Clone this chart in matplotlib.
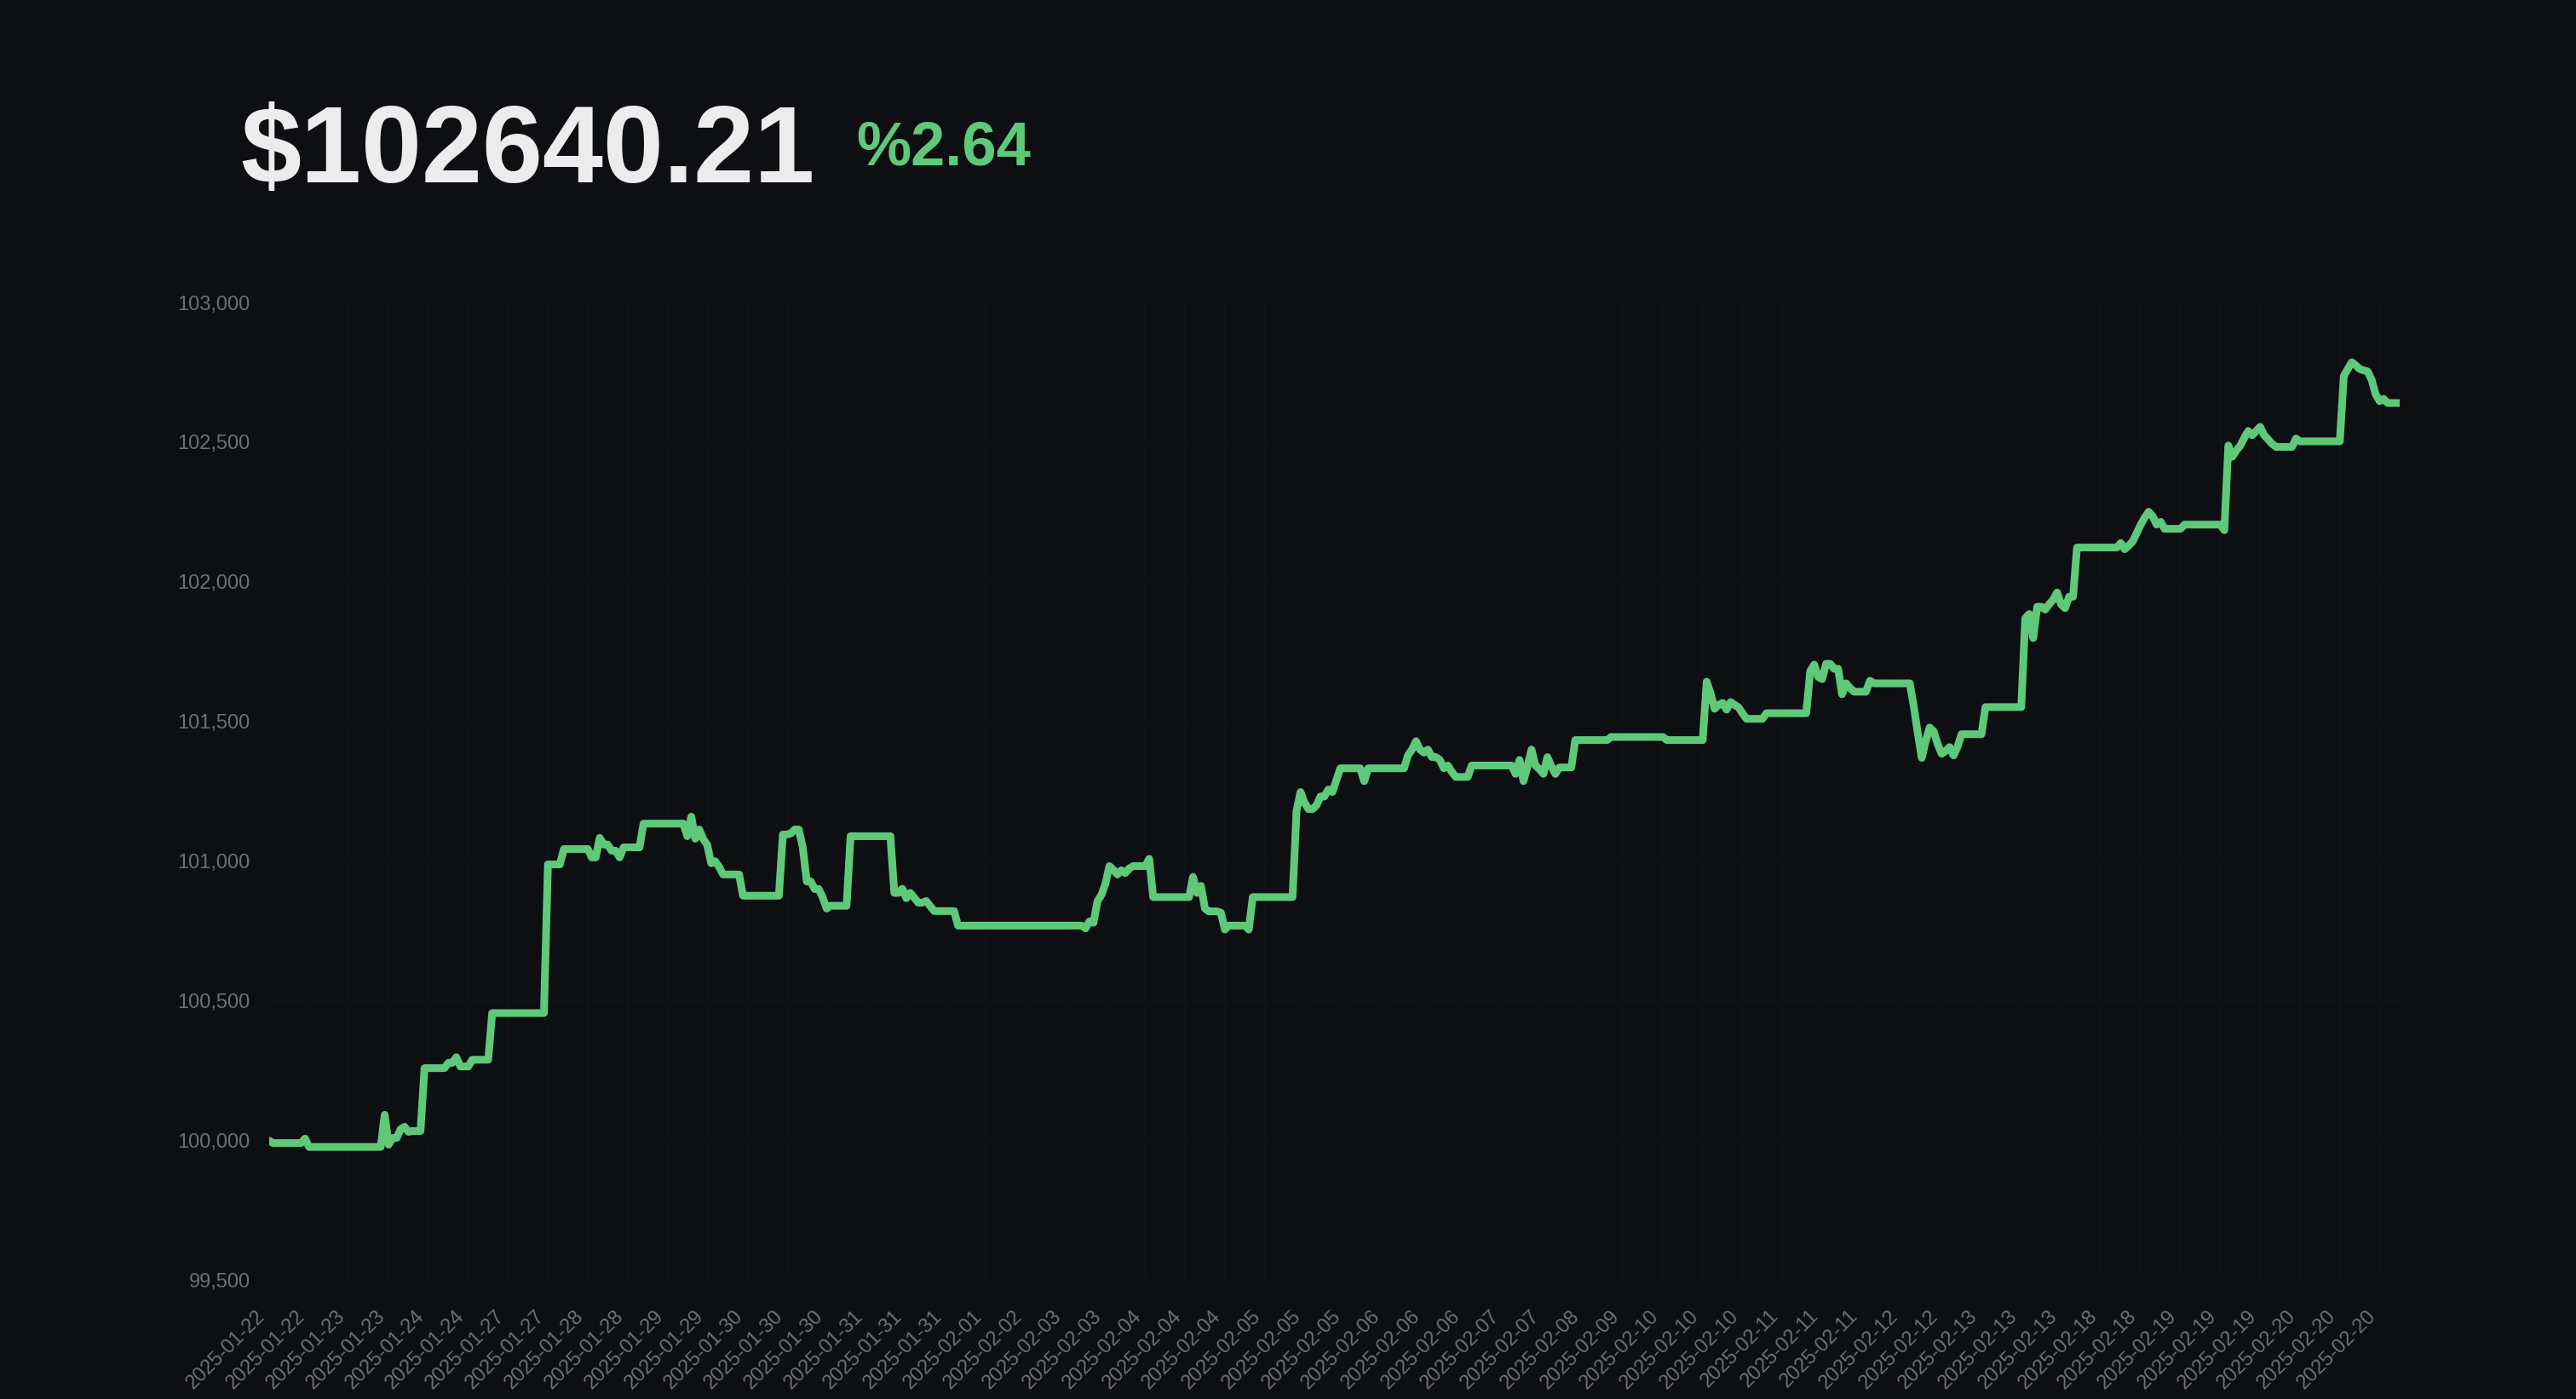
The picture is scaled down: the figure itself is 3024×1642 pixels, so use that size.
import numpy as np
import matplotlib
matplotlib.use("Agg")
import matplotlib.pyplot as plt
from matplotlib.ticker import FuncFormatter

# account value, stored as (index where value changes, new value)
step_at = [0, 1, 9, 10, 29, 30, 31, 33, 34, 35, 36, 39, 45, 47, 48, 51, 56, 70, 74, 81,
           83, 84, 86, 88, 89, 94, 105, 106, 107, 108, 109, 110, 111, 112, 113, 114, 119, 129, 131, 132,
           134, 135, 137, 139, 140, 141, 146, 157, 159, 160, 161, 162, 163, 165, 166, 167, 173, 205, 206, 207,
           208, 209, 210, 211, 212, 213, 214, 215, 216, 217, 221, 222, 232, 233, 234, 235, 236, 239, 240, 241,
           246, 247, 258, 259, 260, 261, 263, 264, 266, 267, 268, 269, 275, 276, 286, 287, 288, 289, 290, 291,
           292, 294, 295, 296, 297, 298, 302, 313, 314, 315, 316, 317, 318, 319, 320, 321, 322, 323, 324, 328,
           337, 351, 361, 362, 363, 364, 365, 366, 367, 368, 369, 370, 371, 376, 387, 388, 389, 390, 391, 393,
           395, 396, 397, 398, 402, 403, 413, 414, 415, 416, 417, 418, 419, 420, 421, 422, 423, 424, 425, 431,
           441, 442, 443, 444, 446, 447, 448, 449, 450, 451, 452, 454, 465, 466, 467, 468, 469, 470, 471, 472,
           473, 474, 475, 476, 481, 491, 492, 493, 494, 495, 496, 497, 498, 499, 500, 501, 502, 503, 504, 509,
           510, 521, 522, 523, 524, 525, 526, 527, 528, 529, 530, 531, 532]
step_value = [100000, 99992, 100008, 99978, 100093, 99986, 100010, 100041, 100050, 100032, 100035, 100260, 100279, 100299, 100266, 100290, 100457, 100989, 101044, 101014,
              101084, 101060, 101038, 101014, 101050, 101135, 101090, 101160, 101081, 101114, 101080, 101059, 100993, 101000, 100980, 100953, 100877, 101096, 101100, 101114,
              101050, 100928, 100901, 100871, 100831, 100841, 101090, 100887, 100902, 100868, 100887, 100870, 100852, 100858, 100840, 100822, 100770, 100760, 100785, 100780,
              100857, 100880, 100920, 100983, 100970, 100953, 100968, 100958, 100975, 100983, 101009, 100872, 100944, 100887, 100912, 100831, 100821, 100816, 100756, 100770,
              100756, 100872, 101181, 101248, 101210, 101187, 101200, 101232, 101257, 101248, 101290, 101333, 101287, 101333, 101380, 101400, 101430, 101400, 101389, 101400,
              101373, 101363, 101333, 101343, 101320, 101302, 101343, 101313, 101363, 101287, 101340, 101400, 101343, 101330, 101313, 101373, 101340, 101313, 101336, 101434,
              101445, 101434, 101643, 101600, 101546, 101560, 101567, 101543, 101570, 101560, 101551, 101530, 101510, 101530, 101680, 101704, 101660, 101652, 101707, 101689,
              101598, 101637, 101620, 101607, 101646, 101637, 101555, 101460, 101370, 101430, 101479, 101465, 101420, 101385, 101395, 101409, 101379, 101410, 101455, 101552,
              101870, 101885, 101799, 101911, 101901, 101920, 101936, 101962, 101920, 101906, 101947, 102123, 102139, 102117, 102130, 102145, 102175, 102205, 102230, 102251,
              102235, 102205, 102215, 102190, 102205, 102185, 102488, 102448, 102470, 102488, 102515, 102540, 102525, 102540, 102555, 102525, 102510, 102494, 102483, 102513,
              102503, 102737, 102762, 102786, 102775, 102762, 102757, 102753, 102723, 102671, 102647, 102655, 102640.21]
n_points = 536

tick_labels = ["2025-01-22", "2025-01-22", "2025-01-23", "2025-01-23", "2025-01-24", "2025-01-24",
               "2025-01-27", "2025-01-27", "2025-01-28", "2025-01-28", "2025-01-29", "2025-01-29",
               "2025-01-30", "2025-01-30", "2025-01-30", "2025-01-31", "2025-01-31", "2025-01-31",
               "2025-02-01", "2025-02-02", "2025-02-03", "2025-02-03", "2025-02-04", "2025-02-04",
               "2025-02-04", "2025-02-05", "2025-02-05", "2025-02-05", "2025-02-06", "2025-02-06",
               "2025-02-06", "2025-02-07", "2025-02-07", "2025-02-08", "2025-02-09", "2025-02-10",
               "2025-02-10", "2025-02-10", "2025-02-11", "2025-02-11", "2025-02-11", "2025-02-12",
               "2025-02-12", "2025-02-13", "2025-02-13", "2025-02-13", "2025-02-18", "2025-02-18",
               "2025-02-19", "2025-02-19", "2025-02-19", "2025-02-20", "2025-02-20", "2025-02-20"]
tick_every = 10

start_value = 100000
final_value = 102640.21

bg = "#0e0f13"
green = "#5fc97a"
grey = "#6f7075"

counts = np.diff(step_at + [n_points])
y = np.repeat(step_value, counts)
x = np.arange(n_points)

plt.rcParams["font.family"] = ["Liberation Sans", "DejaVu Sans"]

fig = plt.figure(figsize=(30.24, 16.42), dpi=100, facecolor=bg)
ax = fig.add_axes([0.1045, 0.0847, 0.827, 0.6991])
ax.set_facecolor(bg)

ax.plot(x, y, color=green, lw=6.5, solid_joinstyle="round", solid_capstyle="round")

ax.set_xlim(0, n_points - 1)
ax.set_ylim(99500, 103000)
ax.set_yticks(np.arange(99500, 103001, 500))
ax.yaxis.set_major_formatter(FuncFormatter(lambda v, p: f"{v:,.0f}"))
ax.set_xticks(np.arange(0, n_points, tick_every)[:len(tick_labels)])
ax.set_xticklabels(tick_labels, rotation=45, ha="right")

ax.tick_params(axis="both", length=0, colors=grey, labelsize=17)
ax.tick_params(axis="x", pad=22)
ax.tick_params(axis="y", pad=16)
for s in ax.spines.values():
    s.set_visible(False)
ax.grid(True, color="#121317", lw=1.2)
ax.set_axisbelow(True)

pct = (final_value - start_value) / start_value * 100
fig.text(0.0932, 1 - 214 / 1642, f"${final_value:.2f}", color="#ececec",
         fontsize=92, fontweight="bold", va="baseline", ha="left")
fig.text(0.3323, 1 - 194 / 1642, f"%{pct:.2f}", color=green,
         fontsize=52, fontweight="bold", va="baseline", ha="left")

fig.savefig("out.png", dpi=100, facecolor=bg)
